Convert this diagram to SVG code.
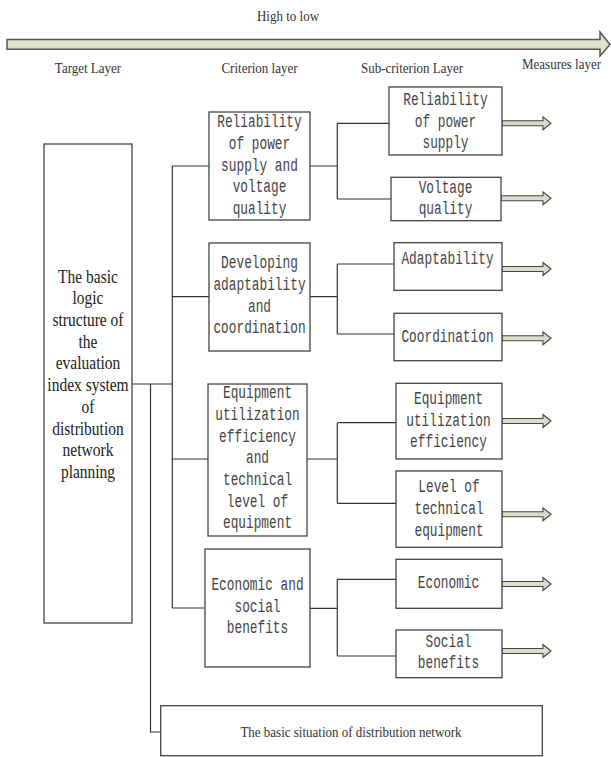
<svg xmlns="http://www.w3.org/2000/svg" width="611" height="757" viewBox="0 0 611 757">
<style>
.bx{fill:#fff;stroke:#444;stroke-width:1.3}
.ln{fill:none;stroke:#333;stroke-width:1.2}
.ar{fill:#d9dcc9;stroke:#444;stroke-width:1.1;stroke-linejoin:miter}
.m{font-family:"Liberation Mono",monospace;font-size:12.8px;fill:#444;text-anchor:middle}
.s{font-family:"Liberation Serif",serif;font-size:15.5px;fill:#222;text-anchor:middle}
.h{font-family:"Liberation Serif",serif;font-size:13px;fill:#333;text-anchor:middle}
</style>
<g id="direction">
<path d="M7,39.5 H600 V32 L610,44.5 L600,56 V49.3 H7 Z" fill="#dfe2cc" stroke="#555" stroke-width="1.5"/>
<text class="h" transform="translate(288 21) scale(1 1.15)" font-size="12">High to low</text>
<text class="h" transform="translate(88 72.7) scale(1 1.15)">Target Layer</text>
<text class="h" transform="translate(259.5 72.7) scale(1 1.15)">Criterion layer</text>
<text class="h" transform="translate(412 72.7) scale(1 1.15)">Sub-criterion Layer</text>
<text class="h" transform="translate(561.5 69.3) scale(1 1.15)">Measures layer</text>
</g>
<g id="connectors">
<path class="ln" d="M132,384 H172.3 M172.3,166 V608 M172.3,166 H209 M172.3,296.7 H209 M172.3,459 H208 M172.3,608 H205"/>
<path class="ln" d="M150.5,384 V732 H160.7"/>
<path class="ln" d="M310,166 H337.3 M337.3,123.3 V199 M337.3,123.3 H389 M337.3,199 H391"/>
<path class="ln" d="M310,296.7 H337.3 M337.3,264 V334 M337.3,264 H394 M337.3,334 H394"/>
<path class="ln" d="M307,459 H337.3 M337.3,422.7 V503.3 M337.3,422.7 H396 M337.3,503.3 H396"/>
<path class="ln" d="M310,608.3 H337.3 M337.3,579.3 V656 M337.3,579.3 H396 M337.3,656 H396"/>
<path class="ar" d="M502,120.8 H543 V116.8 L551,123.3 L543,129.8 V125.8 H502 Z"/>
<path class="ar" d="M501,195.8 H543 V191.8 L551,198.3 L543,204.8 V200.8 H501 Z"/>
<path class="ar" d="M502,266.5 H543 V262.5 L551,269 L543,275.5 V271.5 H502 Z"/>
<path class="ar" d="M502,335.8 H543 V331.8 L551,338.3 L543,344.8 V340.8 H502 Z"/>
<path class="ar" d="M502,418.5 H543 V414.5 L551,421 L543,427.5 V423.5 H502 Z"/>
<path class="ar" d="M502,511.8 H543 V507.8 L551,514.3 L543,520.8 V516.8 H502 Z"/>
<path class="ar" d="M502,581.5 H543 V577.5 L551,584 L543,590.5 V586.5 H502 Z"/>
<path class="ar" d="M502,648.5 H543 V644.5 L551,651 L543,657.5 V653.5 H502 Z"/>
</g>
<g id="target">
<rect class="bx" x="44" y="144" width="88" height="479"/>
<g transform="translate(88 282.7) scale(1 1.2)"><text class="s">
<tspan x="0" y="0">The basic</tspan><tspan x="0" y="18.08">logic</tspan><tspan x="0" y="36.17">structure of</tspan><tspan x="0" y="54.25">the</tspan><tspan x="0" y="72.33">evaluation</tspan><tspan x="0" y="90.42">index system</tspan><tspan x="0" y="108.5">of</tspan><tspan x="0" y="126.58">distribution</tspan><tspan x="0" y="144.67">network</tspan><tspan x="0" y="162.75">planning</tspan>
</text></g>
</g>
<g id="c1">
<rect class="bx" x="209" y="112" width="101" height="108"/>
<g transform="translate(259.5 127.3) scale(1 1.45)"><text class="m">
<tspan x="0" y="0">Reliability</tspan><tspan x="0" y="14.97">of power</tspan><tspan x="0" y="29.93">supply and</tspan><tspan x="0" y="44.9">voltage</tspan><tspan x="0" y="59.86">quality</tspan>
</text></g>
</g>
<g id="c2">
<rect class="bx" x="209" y="243" width="101" height="108"/>
<g transform="translate(259.5 268.3) scale(1 1.45)"><text class="m">
<tspan x="0" y="0">Developing</tspan><tspan x="0" y="14.97">adaptability</tspan><tspan x="0" y="29.93">and</tspan><tspan x="0" y="44.9">coordination</tspan>
</text></g>
</g>
<g id="c3">
<rect class="bx" x="208" y="384" width="99" height="152"/>
<g transform="translate(257.5 398.3) scale(1 1.45)"><text class="m">
<tspan x="0" y="0">Equipment</tspan><tspan x="0" y="14.97">utilization</tspan><tspan x="0" y="29.93">efficiency</tspan><tspan x="0" y="44.9">and</tspan><tspan x="0" y="59.86">technical</tspan><tspan x="0" y="74.83">level of</tspan><tspan x="0" y="89.79">equipment</tspan>
</text></g>
</g>
<g id="c4">
<rect class="bx" x="205" y="549" width="105" height="118"/>
<g transform="translate(257.5 590) scale(1 1.45)"><text class="m">
<tspan x="0" y="0">Economic and</tspan><tspan x="0" y="14.97">social</tspan><tspan x="0" y="29.93">benefits</tspan>
</text></g>
</g>
<g id="s1">
<rect class="bx" x="389" y="87" width="113" height="68"/>
<g transform="translate(445.5 105) scale(1 1.45)"><text class="m">
<tspan x="0" y="0">Reliability</tspan><tspan x="0" y="14.97">of power</tspan><tspan x="0" y="29.93">supply</tspan>
</text></g>
</g>
<g id="s2">
<rect class="bx" x="391" y="177.3" width="110" height="43.4"/>
<g transform="translate(445.5 192.7) scale(1 1.45)"><text class="m">
<tspan x="0" y="0">Voltage</tspan><tspan x="0" y="14.97">quality</tspan>
</text></g>
</g>
<g id="s3">
<rect class="bx" x="394" y="242.7" width="108" height="47.6"/>
<text class="m" transform="translate(447.5 264) scale(1 1.45)">Adaptability</text>
</g>
<g id="s4">
<rect class="bx" x="394" y="313.3" width="108" height="47.4"/>
<text class="m" transform="translate(447.5 341.7) scale(1 1.45)">Coordination</text>
</g>
<g id="s5">
<rect class="bx" x="396" y="383.3" width="106" height="75.7"/>
<g transform="translate(448.5 404) scale(1 1.45)"><text class="m">
<tspan x="0" y="0">Equipment</tspan><tspan x="0" y="14.97">utilization</tspan><tspan x="0" y="29.93">efficiency</tspan>
</text></g>
</g>
<g id="s6">
<rect class="bx" x="396" y="471" width="106" height="76.3"/>
<g transform="translate(449 492.3) scale(1 1.45)"><text class="m">
<tspan x="0" y="0">Level of</tspan><tspan x="0" y="14.97">technical</tspan><tspan x="0" y="29.93">equipment</tspan>
</text></g>
</g>
<g id="s7">
<rect class="bx" x="396" y="559.3" width="106" height="49"/>
<text class="m" transform="translate(448.5 588.3) scale(1 1.45)">Economic</text>
</g>
<g id="s8">
<rect class="bx" x="396" y="630" width="106" height="47.7"/>
<g transform="translate(448.5 646.7) scale(1 1.45)"><text class="m">
<tspan x="0" y="0">Social</tspan><tspan x="0" y="14.97">benefits</tspan>
</text></g>
</g>
<g id="basic">
<rect class="bx" x="160.7" y="705.7" width="381.6" height="50"/>
<text class="h" transform="translate(351 736.7) scale(1 1.15)">The basic situation of distribution network</text>
</g>
</svg>
